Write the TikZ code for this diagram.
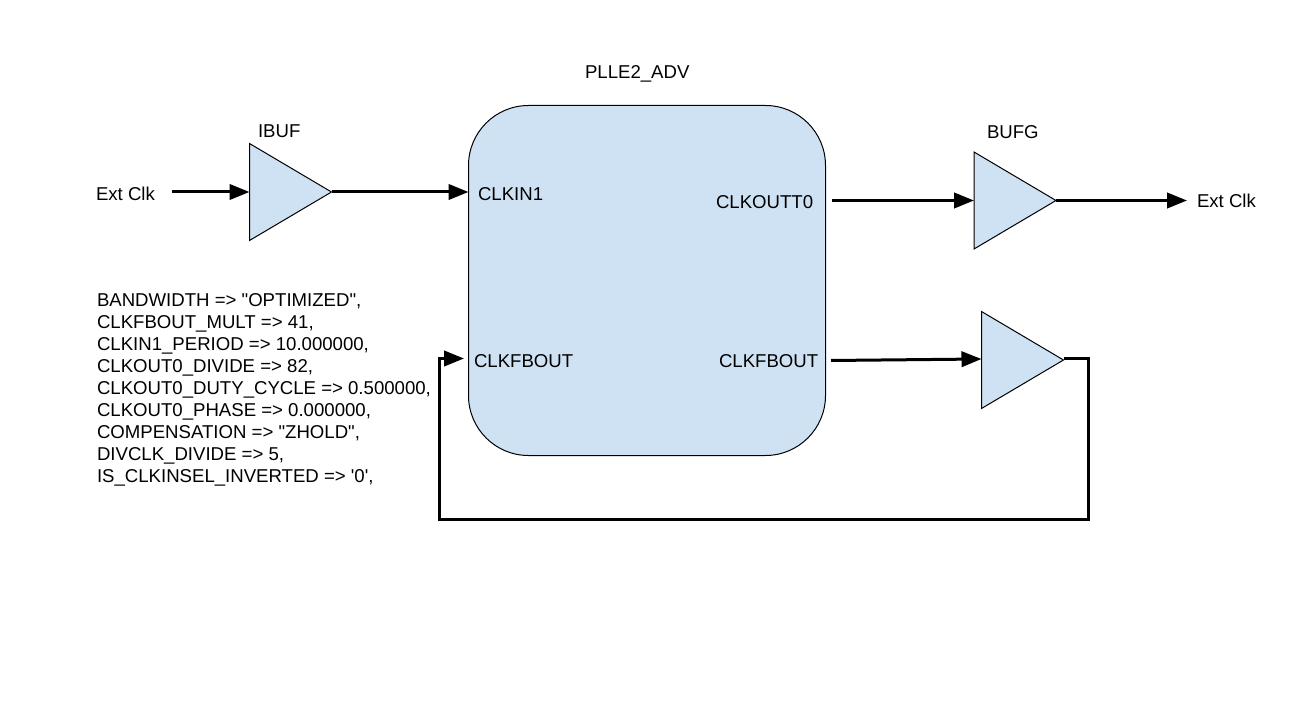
\documentclass[tikz,border=0pt]{standalone}
\usepackage{fontspec}
\setmainfont{Liberation Sans}[Ligatures=TeXOff]
\usetikzlibrary{shapes.geometric,arrows.meta}
\definecolor{blockfill}{HTML}{CFE2F3}
\tikzset{
  px/.style={x=0.75pt,y=-0.75pt},
  lbl/.style={inner sep=0pt,outer sep=0pt,anchor=base west,font=\fontsize{13.95pt}{16.5pt}\selectfont},
  buf/.style={draw=black,fill=blockfill,line width=0.75pt,isosceles triangle,isosceles triangle stretches,
    minimum width=72.75pt,minimum height=61.5pt,inner sep=0pt,outer sep=0pt,anchor=lower side},
  sig/.style={draw=black,line width=2.25pt,-{Triangle[length=15pt,width=11.5pt]}}
}
\begin{document}
\begin{tikzpicture}[px]
\useasboundingbox (0,0) rectangle (1310,720);
\node[draw=black,fill=blockfill,line width=0.75pt,rounded corners=45pt,minimum width=267.75pt,minimum height=262.5pt,inner sep=0pt,outer sep=0pt] (pll) at (647,280.5) {};

\node[buf] (ibuf) at (249.5,192) {};
\node[buf] (bufg) at (974,200.5) {};
\node[buf] (fbbuf) at (981.5,360) {};

\node[lbl] (title) at (585,78.5) {PLLE2\_ADV};
\node[lbl] (ibuflbl) at (258,137.5) {IBUF};
\node[lbl] (bufglbl) at (987,138.5) {BUFG};
\node[lbl] (extin) at (96,200.5) {Ext Clk};
\node[lbl] (extout) at (1197,208) {Ext Clk};
\node[lbl] (clkin) at (478,200.5) {CLKIN1};
\node[lbl] (clkout) at (716,208.5) {CLKOUTT0};
\node[lbl] (fbin) at (474,367) {CLKFBOUT};
\node[lbl] (fbout) at (719,367) {CLKFBOUT};
\node[lbl,anchor=north west,align=left] (params) at (97,293.7) {BANDWIDTH => "OPTIMIZED",\\
CLKFBOUT\_MULT => 41,\\
CLKIN1\_PERIOD => 10.000000,\\
CLKOUT0\_DIVIDE => 82,\\
CLKOUT0\_DUTY\_CYCLE => 0.500000,\\
CLKOUT0\_PHASE => 0.000000,\\
COMPENSATION => "ZHOLD",\\
DIVCLK\_DIVIDE => 5,\\
IS\_CLKINSEL\_INVERTED => '0',};

\coordinate (a0) at (172,192);
\coordinate (a1) at (832,200.5);
\coordinate (a2) at (1187,200.5);
\coordinate (a3) at (831,360.5);
\coordinate (c1) at (1088,358.5);
\coordinate (c2) at (1088,519);
\coordinate (c3) at (439,519);
\coordinate (c4) at (439,358.5);
\coordinate (a4) at (464,358.5);
\coordinate (i1) at (468.5,192);
\coordinate (i3) at (981.5,359);

\draw[sig] (a0) -- (a0 -| ibuf.lower side);
\draw[sig] (ibuf.apex) -- (ibuf.apex -| i1);
\draw[sig] (a1) -- (a1 -| bufg.lower side);
\draw[sig] (bufg.apex) -- (bufg.apex -| a2);
\draw[sig] (a3) -- (i3);
\draw[sig,line join=miter] (fbbuf.apex |- c1) -- (c1) -- (c2) -- (c3) -- (c4) -- (a4);
\end{tikzpicture}
\end{document}
